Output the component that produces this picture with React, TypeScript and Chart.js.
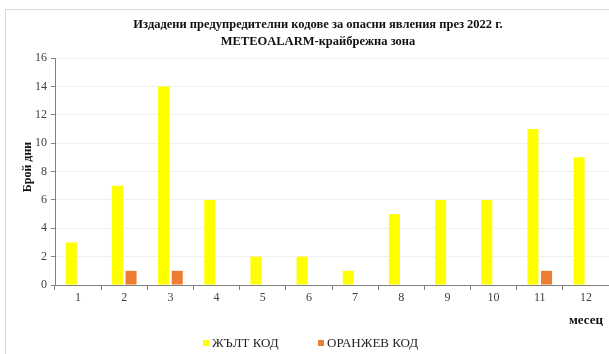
import React, { useEffect, useRef } from "react";
import { Chart, registerables } from "chart.js";

Chart.register(...registerables);

const months = ["1", "2", "3", "4", "5", "6", "7", "8", "9", "10", "11", "12"];
const yellowCode = [3, 7, 14, 6, 2, 2, 1, 5, 6, 6, 11, 9];
const orangeCode = [0, 1, 1, 0, 0, 0, 0, 0, 0, 0, 1, 0];
const seriesNames = ["ЖЪЛТ КОД", "ОРАНЖЕВ КОД"];
const seriesColors = ["#FFFF00", "#ED7D31"];
const titleLines = [
  "Издадени предупредителни кодове за опасни явления през 2022 г.",
  "METEOALARM-крайбрежна зона",
];
const yAxisTitle = "Брой дни";
const xAxisTitle = "месец";

const SERIF = "'Liberation Serif', 'Times New Roman', serif";

// Frame, titles, axis captions and legend drawn straight onto the canvas.
const decorations = {
  id: "decorations",
  afterDraw(chart: any) {
    const ctx = chart.ctx as CanvasRenderingContext2D;
    const W = chart.width;
    const H = chart.height;
    ctx.save();

    // outer frame
    ctx.strokeStyle = "#d9d9d9";
    ctx.lineWidth = 1;
    ctx.beginPath();
    ctx.moveTo(5.5, H);
    ctx.lineTo(5.5, 9.5);
    ctx.lineTo(W, 9.5);
    ctx.stroke();

    // title
    ctx.fillStyle = "#111111";
    ctx.textAlign = "center";
    ctx.textBaseline = "middle";
    ctx.font = `bold 12.5px ${SERIF}`;
    ctx.fillText(titleLines[0], 318, 25);
    ctx.fillText(titleLines[1], 318, 42);

    // y axis caption
    ctx.save();
    ctx.translate(28, 167);
    ctx.rotate(-Math.PI / 2);
    ctx.font = `bold 12px ${SERIF}`;
    ctx.fillText(yAxisTitle, 0, 0);
    ctx.restore();

    // x axis caption
    ctx.font = `bold 13px ${SERIF}`;
    ctx.textAlign = "center";
    ctx.fillText(xAxisTitle, 586, 321);

    // legend
    ctx.font = `13px ${SERIF}`;
    ctx.textAlign = "left";
    const legendX = [203, 318];
    seriesNames.forEach((name, i) => {
      ctx.fillStyle = seriesColors[i];
      ctx.fillRect(legendX[i], 340, 6, 6);
      ctx.fillStyle = "#222222";
      ctx.fillText(name, legendX[i] + 9, 344);
    });

    ctx.restore();
  },
};

export default function App() {
  const canvasRef = useRef<HTMLCanvasElement | null>(null);

  useEffect(() => {
    if (!canvasRef.current) return;
    const chart = new Chart(canvasRef.current, {
      type: "bar",
      data: {
        labels: months,
        datasets: [
          {
            label: seriesNames[0],
            data: yellowCode,
            backgroundColor: seriesColors[0],
            borderWidth: 0,
            categoryPercentage: 0.59,
            barPercentage: 0.81,
          },
          {
            label: seriesNames[1],
            data: orangeCode,
            backgroundColor: seriesColors[1],
            borderWidth: 0,
            categoryPercentage: 0.59,
            barPercentage: 0.81,
          },
        ],
      },
      options: {
        responsive: false,
        animation: false,
        maintainAspectRatio: false,
        layout: { padding: { top: 58, left: 0, right: 0, bottom: 0 } },
        plugins: {
          legend: { display: false },
          title: { display: false },
          tooltip: { enabled: false },
        },
        scales: {
          x: {
            type: "category",
            grid: {
              display: true,
              drawOnChartArea: false,
              drawTicks: true,
              tickLength: 5,
              tickColor: "#7f7f7f",
              offset: true,
            },
            border: { color: "#7f7f7f", width: 1 },
            ticks: {
              font: { family: SERIF, size: 12 },
              color: "#404040",
              padding: 1,
              maxRotation: 0,
            },
            afterFit: (s: any) => {
              s.height = 69;
            },
          },
          y: {
            min: 0,
            max: 16,
            grid: {
              color: "#f0f0f0",
              tickLength: 4,
              tickColor: "#7f7f7f",
            },
            border: { color: "#7f7f7f", width: 1 },
            ticks: {
              stepSize: 2,
              font: { family: SERIF, size: 12 },
              color: "#404040",
              padding: 4,
            },
            afterFit: (s: any) => {
              s.width = 55;
            },
          },
        },
      },
      plugins: [decorations],
    });
    return () => chart.destroy();
  }, []);

  return (
    <div style={{ position: "fixed", left: 0, top: 0, width: 609, height: 354, background: "#ffffff" }}>
      <canvas ref={canvasRef} width={609} height={354} style={{ display: "block" }} />
    </div>
  );
}
